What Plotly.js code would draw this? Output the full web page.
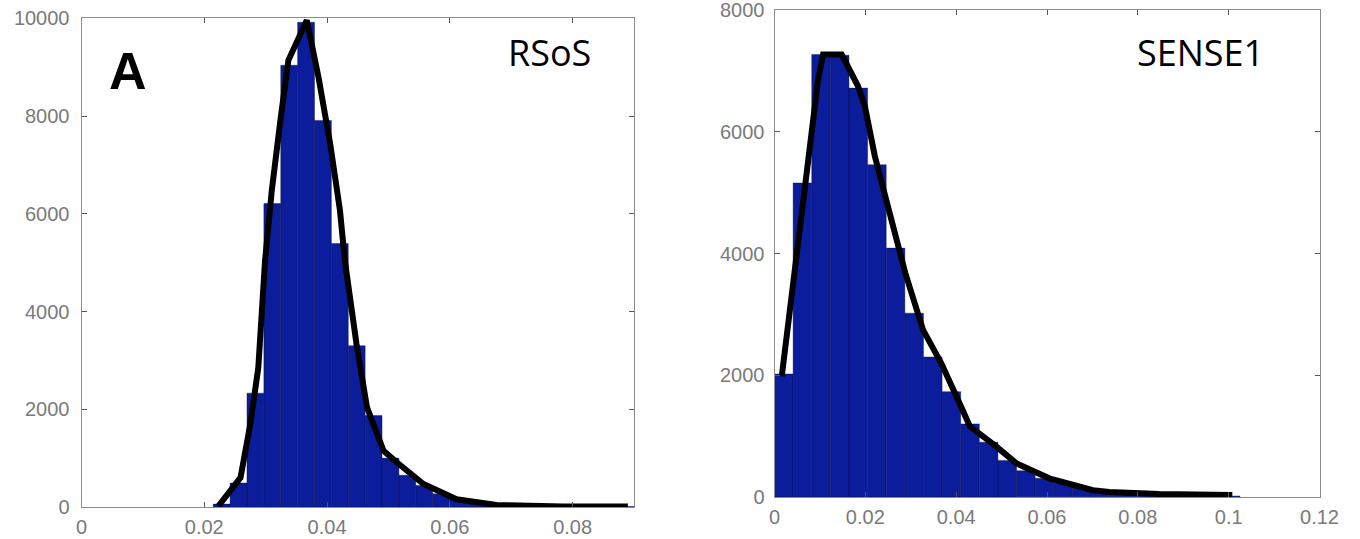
<!DOCTYPE html>
<html>
<head>
<meta charset="utf-8">
<script src="https://cdn.plot.ly/plotly-3.0.1.min.js"></script>
<style>
  html, body { margin: 0; padding: 0; background: #fff; }
  #chart { width: 1360px; height: 539px; }
</style>
</head>
<body>
<div id="chart"></div>
<script>
// ---- Data ----
// Panel A: RSoS histogram (bin centres and counts)
const rsosBins = [0.02283, 0.02558, 0.02833, 0.03108, 0.03383, 0.03658, 0.03933, 0.04208, 0.04483, 0.04758,
                  0.05033, 0.05308, 0.05583, 0.05858, 0.06133, 0.06408, 0.06683, 0.06958, 0.07233, 0.07508,
                  0.07783, 0.08058, 0.08333, 0.08608, 0.08883];
const rsosCounts = [60, 490, 2330, 6210, 9040, 9920, 7910, 5390, 3300, 1870,
                    1000, 650, 440, 270, 160, 95, 50, 30, 20, 15,
                    12, 10, 10, 8, 10];
const rsosBinWidth = 0.00275;
// Panel A: fitted curve
const rsosFitX = [0.0223, 0.0242, 0.0259, 0.0275, 0.0288, 0.0299, 0.0310, 0.0324, 0.0337, 0.0367,
                  0.0386, 0.0405, 0.0421, 0.0429, 0.0448, 0.0465, 0.0492, 0.0513, 0.0557, 0.0611,
                  0.0676, 0.0784, 0.0890];
const rsosFitY = [20, 330, 600, 1700, 2850, 5040, 6480, 7910, 9140, 9960,
                  8800, 7440, 6070, 5040, 3330, 2040, 1150, 920, 470, 157,
                  41, 12, 10];

// Panel B: SENSE1 histogram
const senseBins = [0.00205, 0.00615, 0.01025, 0.01435, 0.01845, 0.02255, 0.02665, 0.03075, 0.03485, 0.03895,
                   0.04305, 0.04715, 0.05125, 0.05535, 0.05945, 0.06355, 0.06765, 0.07175, 0.07585, 0.07995,
                   0.08405, 0.08815, 0.09225, 0.09635, 0.10045];
const senseCounts = [2020, 5160, 7270, 7260, 6720, 5460, 4090, 3020, 2300, 1730,
                     1200, 900, 600, 430, 305, 225, 160, 105, 75, 55,
                     40, 30, 25, 20, 15];
const senseBinWidth = 0.0041;
// Panel B: fitted curve
const senseFitX = [0.0016, 0.0027, 0.0043, 0.0071, 0.0096, 0.0107, 0.0148, 0.0184, 0.0199, 0.0221,
                   0.0247, 0.0288, 0.0327, 0.0367, 0.0411, 0.0430, 0.0488, 0.0532, 0.0605, 0.0701,
                   0.0737, 0.0847, 0.1008];
const senseFitY = [1980, 2640, 3800, 5380, 6860, 7270, 7270, 6750, 6420, 5600,
                   4830, 3680, 2745, 2200, 1480, 1160, 830, 555, 305, 110,
                   80, 48, 30];

// Tick values / labels
const leftXTicks = [0, 0.02, 0.04, 0.06, 0.08];
const leftXLabels = ["0", "0.02", "0.04", "0.06", "0.08"];
const leftYTicks = [0, 2000, 4000, 6000, 8000, 10000];
const leftYLabels = ["0", "2000", "4000", "6000", "8000", "10000"];
const rightXTicks = [0, 0.02, 0.04, 0.06, 0.08, 0.1, 0.12];
const rightXLabels = ["0", "0.02", "0.04", "0.06", "0.08", "0.1", "0.12"];
const rightYTicks = [0, 2000, 4000, 6000, 8000];
const rightYLabels = ["0", "2000", "4000", "6000", "8000"];

// Panel labels
const panelLetter = "A";
const leftTitle = "RSoS";
const rightTitle = "SENSE1";

// ---- Styling ----
const W = 1360, H = 539;
const barColor = "#0b1d9a";
const tickFont = { family: "Liberation Sans, Arial, sans-serif", size: 20, color: "#7a7a7a" };

function axisStyle(extra) {
  return Object.assign({
    showgrid: false, zeroline: false,
    showline: true, linecolor: "#8c8c8c", linewidth: 1, mirror: "ticks",
    ticks: "inside", ticklen: 5, tickcolor: "#555", tickwidth: 1,
    tickfont: tickFont, tickmode: "array", fixedrange: true,
    ticklabeloverflow: "allow"
  }, extra);
}

const traces = [
  { type: "bar", x: rsosBins, y: rsosCounts, width: rsosBinWidth,
    marker: { color: barColor, line: { color: "rgba(0,0,50,0.45)", width: 0.8 } },
    xaxis: "x", yaxis: "y", hoverinfo: "skip", cliponaxis: false },
  { type: "scatter", mode: "lines", x: rsosFitX, y: rsosFitY,
    line: { color: "#000", width: 6 }, xaxis: "x", yaxis: "y", hoverinfo: "skip", cliponaxis: false },
  { type: "bar", x: senseBins, y: senseCounts, width: senseBinWidth,
    marker: { color: barColor, line: { color: "rgba(0,0,50,0.45)", width: 0.8 } },
    xaxis: "x2", yaxis: "y2", hoverinfo: "skip", cliponaxis: false },
  { type: "scatter", mode: "lines", x: senseFitX, y: senseFitY,
    line: { color: "#000", width: 6 }, xaxis: "x2", yaxis: "y2", hoverinfo: "skip", cliponaxis: false }
];

const layout = {
  width: W, height: H,
  margin: { l: 0, r: 0, t: 0, b: 0, pad: 0 },
  paper_bgcolor: "#fff", plot_bgcolor: "#fff",
  showlegend: false, bargap: 0,
  xaxis: axisStyle({ domain: [81.5 / W, 634 / W], range: [0, 0.09], anchor: "y",
    tickvals: leftXTicks, ticktext: leftXLabels, ticklabelstandoff: 2 }),
  yaxis: axisStyle({ domain: [(H - 507) / H, (H - 18.3) / H], range: [0, 10000], anchor: "x",
    tickvals: leftYTicks, ticktext: leftYLabels, ticklabelstandoff: 7 }),
  xaxis2: axisStyle({ domain: [774.5 / W, 1319.5 / W], range: [0, 0.12], anchor: "y2",
    tickvals: rightXTicks, ticktext: rightXLabels, ticklabelstandoff: 2 }),
  yaxis2: axisStyle({ domain: [(H - 496.9) / H, (H - 10.2) / H], range: [0, 8000], anchor: "x2",
    tickvals: rightYTicks, ticktext: rightYLabels, ticklabelstandoff: 5 }),
  annotations: [
    { text: panelLetter, xref: "paper", yref: "paper", x: 128 / W, y: 1 - 71 / H,
      xanchor: "center", yanchor: "middle", showarrow: false,
      font: { family: "Liberation Sans, Arial, sans-serif", size: 52, color: "#000", weight: "bold" } },
    { text: leftTitle, xref: "paper", yref: "paper", x: 549 / W, y: 1 - 52 / H,
      xanchor: "center", yanchor: "middle", showarrow: false,
      font: { family: "Open Sans, sans-serif", size: 36, color: "#000" } },
    { text: rightTitle, xref: "paper", yref: "paper", x: 1200 / W, y: 1 - 52 / H,
      xanchor: "center", yanchor: "middle", showarrow: false,
      font: { family: "Open Sans, sans-serif", size: 36, color: "#000" } }
  ]
};

Plotly.newPlot("chart", traces, layout, { displayModeBar: false, staticPlot: true });
</script>
</body>
</html>
